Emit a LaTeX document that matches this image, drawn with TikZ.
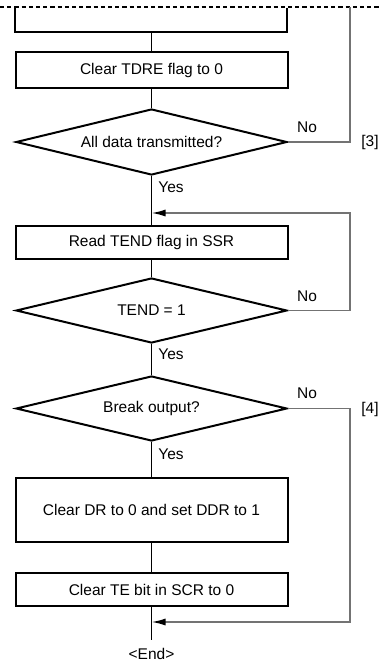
\documentclass[tikz,border=0pt]{standalone}
\usepackage{fontspec}
\setmainfont{Liberation Sans}
\usetikzlibrary{shapes.geometric,arrows.meta}
\begin{document}
\begin{tikzpicture}[x=1pt,y=-1pt,
  every node/.style={font=\fontsize{15.5}{18}\selectfont},
  procbox/.style={draw=black,line width=2pt,rectangle,minimum width=272pt,inner sep=0pt},
  decision/.style={draw=black,line width=2pt,diamond,aspect=4.1,minimum width=271pt,inner sep=0pt},
  flow/.style={draw=black,line width=1pt},
  back/.style={draw=black!55,line width=1.6pt},
  lbl/.style={inner sep=0pt}]
\useasboundingbox (0,0) rectangle (379,662);
% dashed cut line
\draw[black,line width=2.3pt,dash pattern=on 4.2pt off 3pt] (0,7) -- (379,7);
% partial top box
\draw[black,line width=2pt] (15,8) -- (15,32) -- (287,32) -- (287,8);
\coordinate (top) at (151.5,32);
% nodes
\node[procbox,minimum height=36pt] (tdre) at (151.5,70) {Clear TDRE flag to 0};
\node[decision,minimum height=66pt] (d1) at (151.5,142) {All data transmitted?};
\node[procbox,minimum height=33pt] (rd) at (151.5,242.5) {Read TEND flag in SSR};
\node[decision,minimum height=65pt] (d2) at (151.5,310.5) {TEND = 1};
\node[decision,minimum height=65pt] (d3) at (151.5,408.5) {Break output?};
\node[procbox,minimum height=64pt] (dr) at (151.5,510) {Clear DR to 0 and set DDR to 1};
\node[procbox,minimum height=33pt] (te) at (151.5,589.5) {Clear TE bit in SCR to 0};
\node[lbl] (end) at (151.5,654) {<End>};
% coordinates
\coordinate (j1) at (151.5,213);
\coordinate (j2) at (151.5,622);
\coordinate (endtop) at (151.5,640);
\coordinate (c3) at (350,7);
% main flow
\draw[flow] (top) -- (tdre.north);
\draw[flow] (tdre.south) -- (d1.north);
\draw[flow] (d1.south) -- (rd.north);
\draw[flow] (rd.south) -- (d2.north);
\draw[flow] (d2.south) -- (d3.north);
\draw[flow] (d3.south) -- (dr.north);
\draw[flow] (dr.south) -- (te.north);
\draw[flow] (te.south) -- (endtop);
% feedback lines
\draw[back] (d1.east) -| (c3);
\draw[back,-{Latex[length=14pt,width=7pt,black]}] (d2.east) -- (350,310.5) |- (j1);
\draw[back,-{Latex[length=14pt,width=7pt,black]}] (d3.east) -- (350,408.5) |- (j2);
% labels
\node[lbl] (no1) at (307,127) {No};
\node[lbl] (no2) at (307,296) {No};
\node[lbl] (no3) at (307,393) {No};
\node[lbl] (y1) at (171,187) {Yes};
\node[lbl] (y2) at (171,354) {Yes};
\node[lbl] (y3) at (171,454) {Yes};
\node[lbl] (n3) at (370,142) {[3]};
\node[lbl] (n4) at (370,409) {[4]};
\end{tikzpicture}
\end{document}
